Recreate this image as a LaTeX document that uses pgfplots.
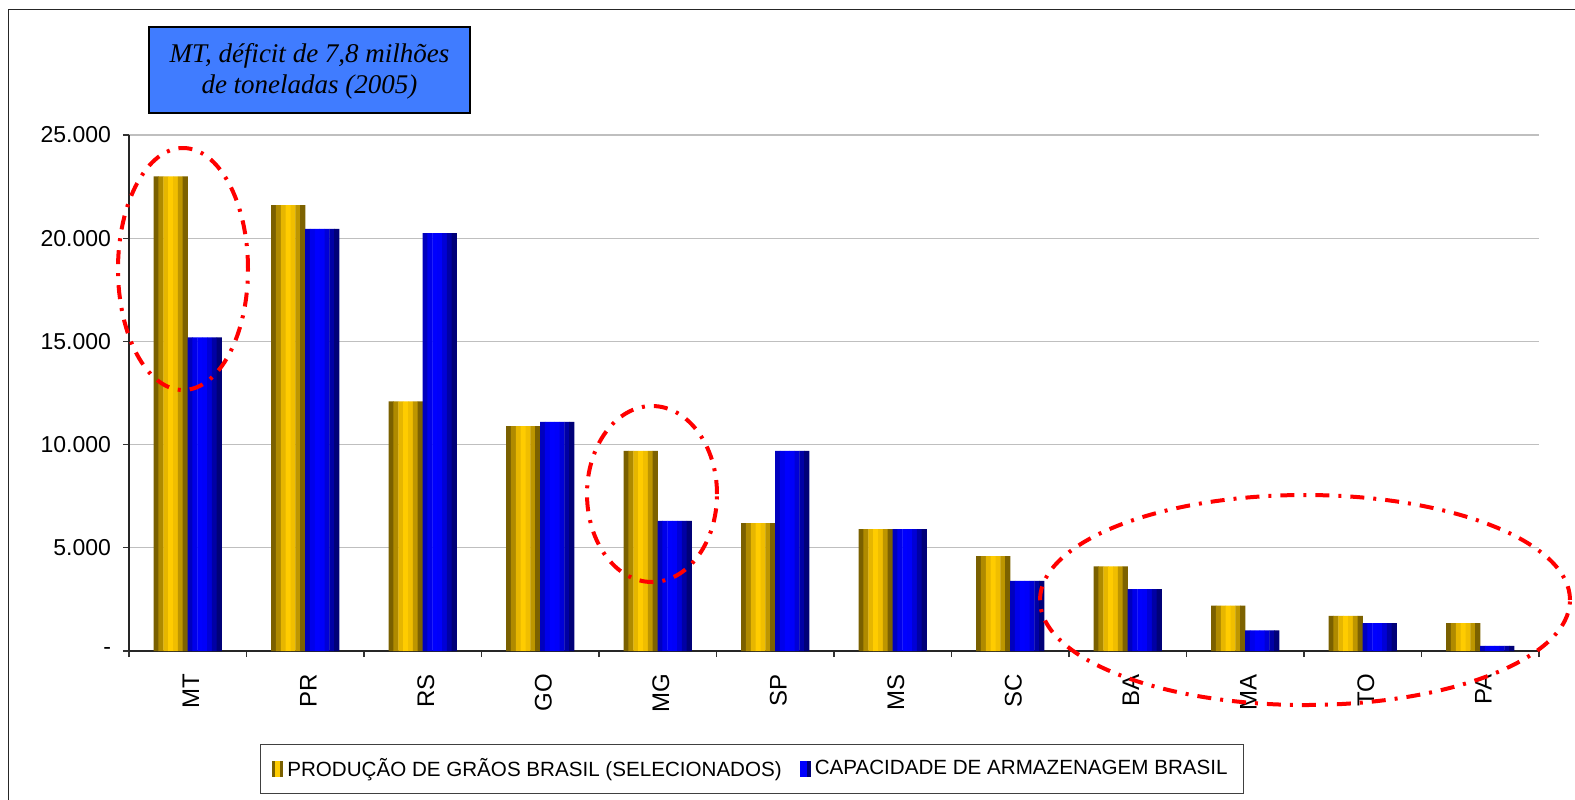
\documentclass[border=0pt]{standalone}
\usepackage{fontspec}
\setmainfont{Liberation Sans}
\newfontfamily\timesfont{Liberation Serif}
\usepackage{pgfplots}
\usepackage{pgfplotstable}
\pgfplotsset{compat=1.18}
\definecolor{yA}{RGB}{122,96,0}
\definecolor{yB}{RGB}{175,138,0}
\definecolor{yC}{RGB}{230,182,0}
\definecolor{yD}{RGB}{255,204,0}
\definecolor{yE}{RGB}{240,190,0}
\definecolor{yF}{RGB}{190,150,0}
\definecolor{yG}{RGB}{125,98,0}
\definecolor{bA}{RGB}{0,0,190}
\definecolor{bB}{RGB}{0,0,235}
\definecolor{bC}{RGB}{0,0,255}
\definecolor{bD}{RGB}{0,0,250}
\definecolor{bE}{RGB}{0,0,215}
\definecolor{bF}{RGB}{0,0,165}
\definecolor{bG}{RGB}{0,0,120}
\definecolor{boxblue}{RGB}{64,124,255}
\pgfplotstableread{
x prod cap
0 23000 15200
1 21600 20450
2 12100 20250
3 10900 11100
4 9700 6300
5 6200 9700
6 5900 5900
7 4600 3400
8 4100 3000
9 2200 1000
10 1700 1350
11 1350 250
}\data
\pgfplotsset{stripe/.style n args={2}{ybar, bar width=2.6pt, bar shift=#1pt, fill=#2, draw=none, forget plot}}
\begin{document}
\begin{tikzpicture}
\path[use as bounding box] (0,0) rectangle (787.5pt,-399.5pt);
\begin{axis}[
  at={(64.5pt,-325.5pt)}, anchor=south west,
  scale only axis, width=705pt, height=258pt,
  xmin=-0.5, xmax=11.5, ymin=0, ymax=25000,
  axis lines*=left,
  xtick={-0.5,0.5,1.5,2.5,3.5,4.5,5.5,6.5,7.5,8.5,9.5,10.5,11.5},
  x tick label as interval,
  xticklabels={MT,PR,RS,GO,MG,SP,MS,SC,BA,MA,TO,PA},
  ytick={0,5000,10000,15000,20000,25000},
  yticklabels={{-},{5.000},{10.000},{15.000},{20.000},{25.000}},
  scaled y ticks=false,
  ymajorgrids, grid style={draw=black!25, line width=0.6pt},
  tick align=outside, major tick length=3pt,
  tick style={black!80, line width=0.6pt},
  axis line style={black!85, line width=0.7pt},
  /pgf/number format/assume math mode=true,
  yticklabel style={font=\fontsize{11.5}{13}\selectfont, xshift=-2.5pt},
  xticklabel style={rotate=90, anchor=east, xshift=-5pt, yshift=-1.5pt, font=\fontsize{12}{14}\selectfont},
  legend columns=2,
  legend style={at={(0.4418,-0.2287)}, anchor=center, draw=black!75, line width=0.5pt,
    font=\fontsize{10.3}{12}\selectfont, inner xsep=6pt, inner ysep=5pt,
    /tikz/every even column/.append style={column sep=7pt}},
]
\addplot[stripe={-15.786}{yA}] table[x=x,y=prod]{\data};
\addplot[stripe={-13.357}{yB}] table[x=x,y=prod]{\data};
\addplot[stripe={-10.929}{yC}] table[x=x,y=prod]{\data};
\addplot[stripe={-8.5}{yD}] table[x=x,y=prod]{\data};
\addplot[stripe={-6.071}{yE}] table[x=x,y=prod]{\data};
\addplot[stripe={-3.643}{yF}] table[x=x,y=prod]{\data};
\addplot[stripe={-1.214}{yG}] table[x=x,y=prod]{\data};
\addplot[stripe={1.214}{bA}] table[x=x,y=cap]{\data};
\addplot[stripe={3.643}{bB}] table[x=x,y=cap]{\data};
\addplot[stripe={6.071}{bC}] table[x=x,y=cap]{\data};
\addplot[stripe={8.5}{bD}] table[x=x,y=cap]{\data};
\addplot[stripe={10.929}{bE}] table[x=x,y=cap]{\data};
\addplot[stripe={13.357}{bF}] table[x=x,y=cap]{\data};
\addplot[stripe={15.786}{bG}] table[x=x,y=cap]{\data};
\addlegendimage{legend image code/.code={\fill[yA] (0pt,-3.75pt) rectangle (5pt,3.75pt); \fill[yD] (1.4pt,-3.75pt) rectangle (3.4pt,3.75pt);}}
\addlegendentry{PRODUÇÃO DE GRÃOS BRASIL (SELECIONADOS)}
\addlegendimage{legend image code/.code={\fill[bG] (0pt,-3.75pt) rectangle (5pt,3.75pt); \fill[bC] (0pt,-3.75pt) rectangle (3.2pt,3.75pt);}}
\addlegendentry{CAPACIDADE DE ARMAZENAGEM BRASIL}
\end{axis}
\begin{scope}[x=0.5pt, y=-0.5pt]
  \draw[line width=0.8pt, black!85] (1576,9.5) -- (8.5,9.5) -- (8.5,800);
  \draw[line width=1.2pt, fill=boxblue] (149,27) rectangle (470,113);
  \node[align=center, inner sep=0pt, font=\timesfont\itshape\fontsize{13.5}{15.5}\selectfont]
    at (309.5,71.5) {MT, déficit de 7,8 milhões\\de toneladas (2005)};
  \begin{scope}[red, line width=2pt, dash pattern=on 7pt off 4.5pt on 1.5pt off 4.5pt]
    \draw (183,269) ellipse [x radius=32.5pt, y radius=60.5pt];
    \draw (652,494) ellipse [x radius=32.5pt, y radius=44pt];
    \draw (1305,600) ellipse [x radius=132.5pt, y radius=52.5pt];
  \end{scope}
\end{scope}
\end{tikzpicture}
\end{document}
